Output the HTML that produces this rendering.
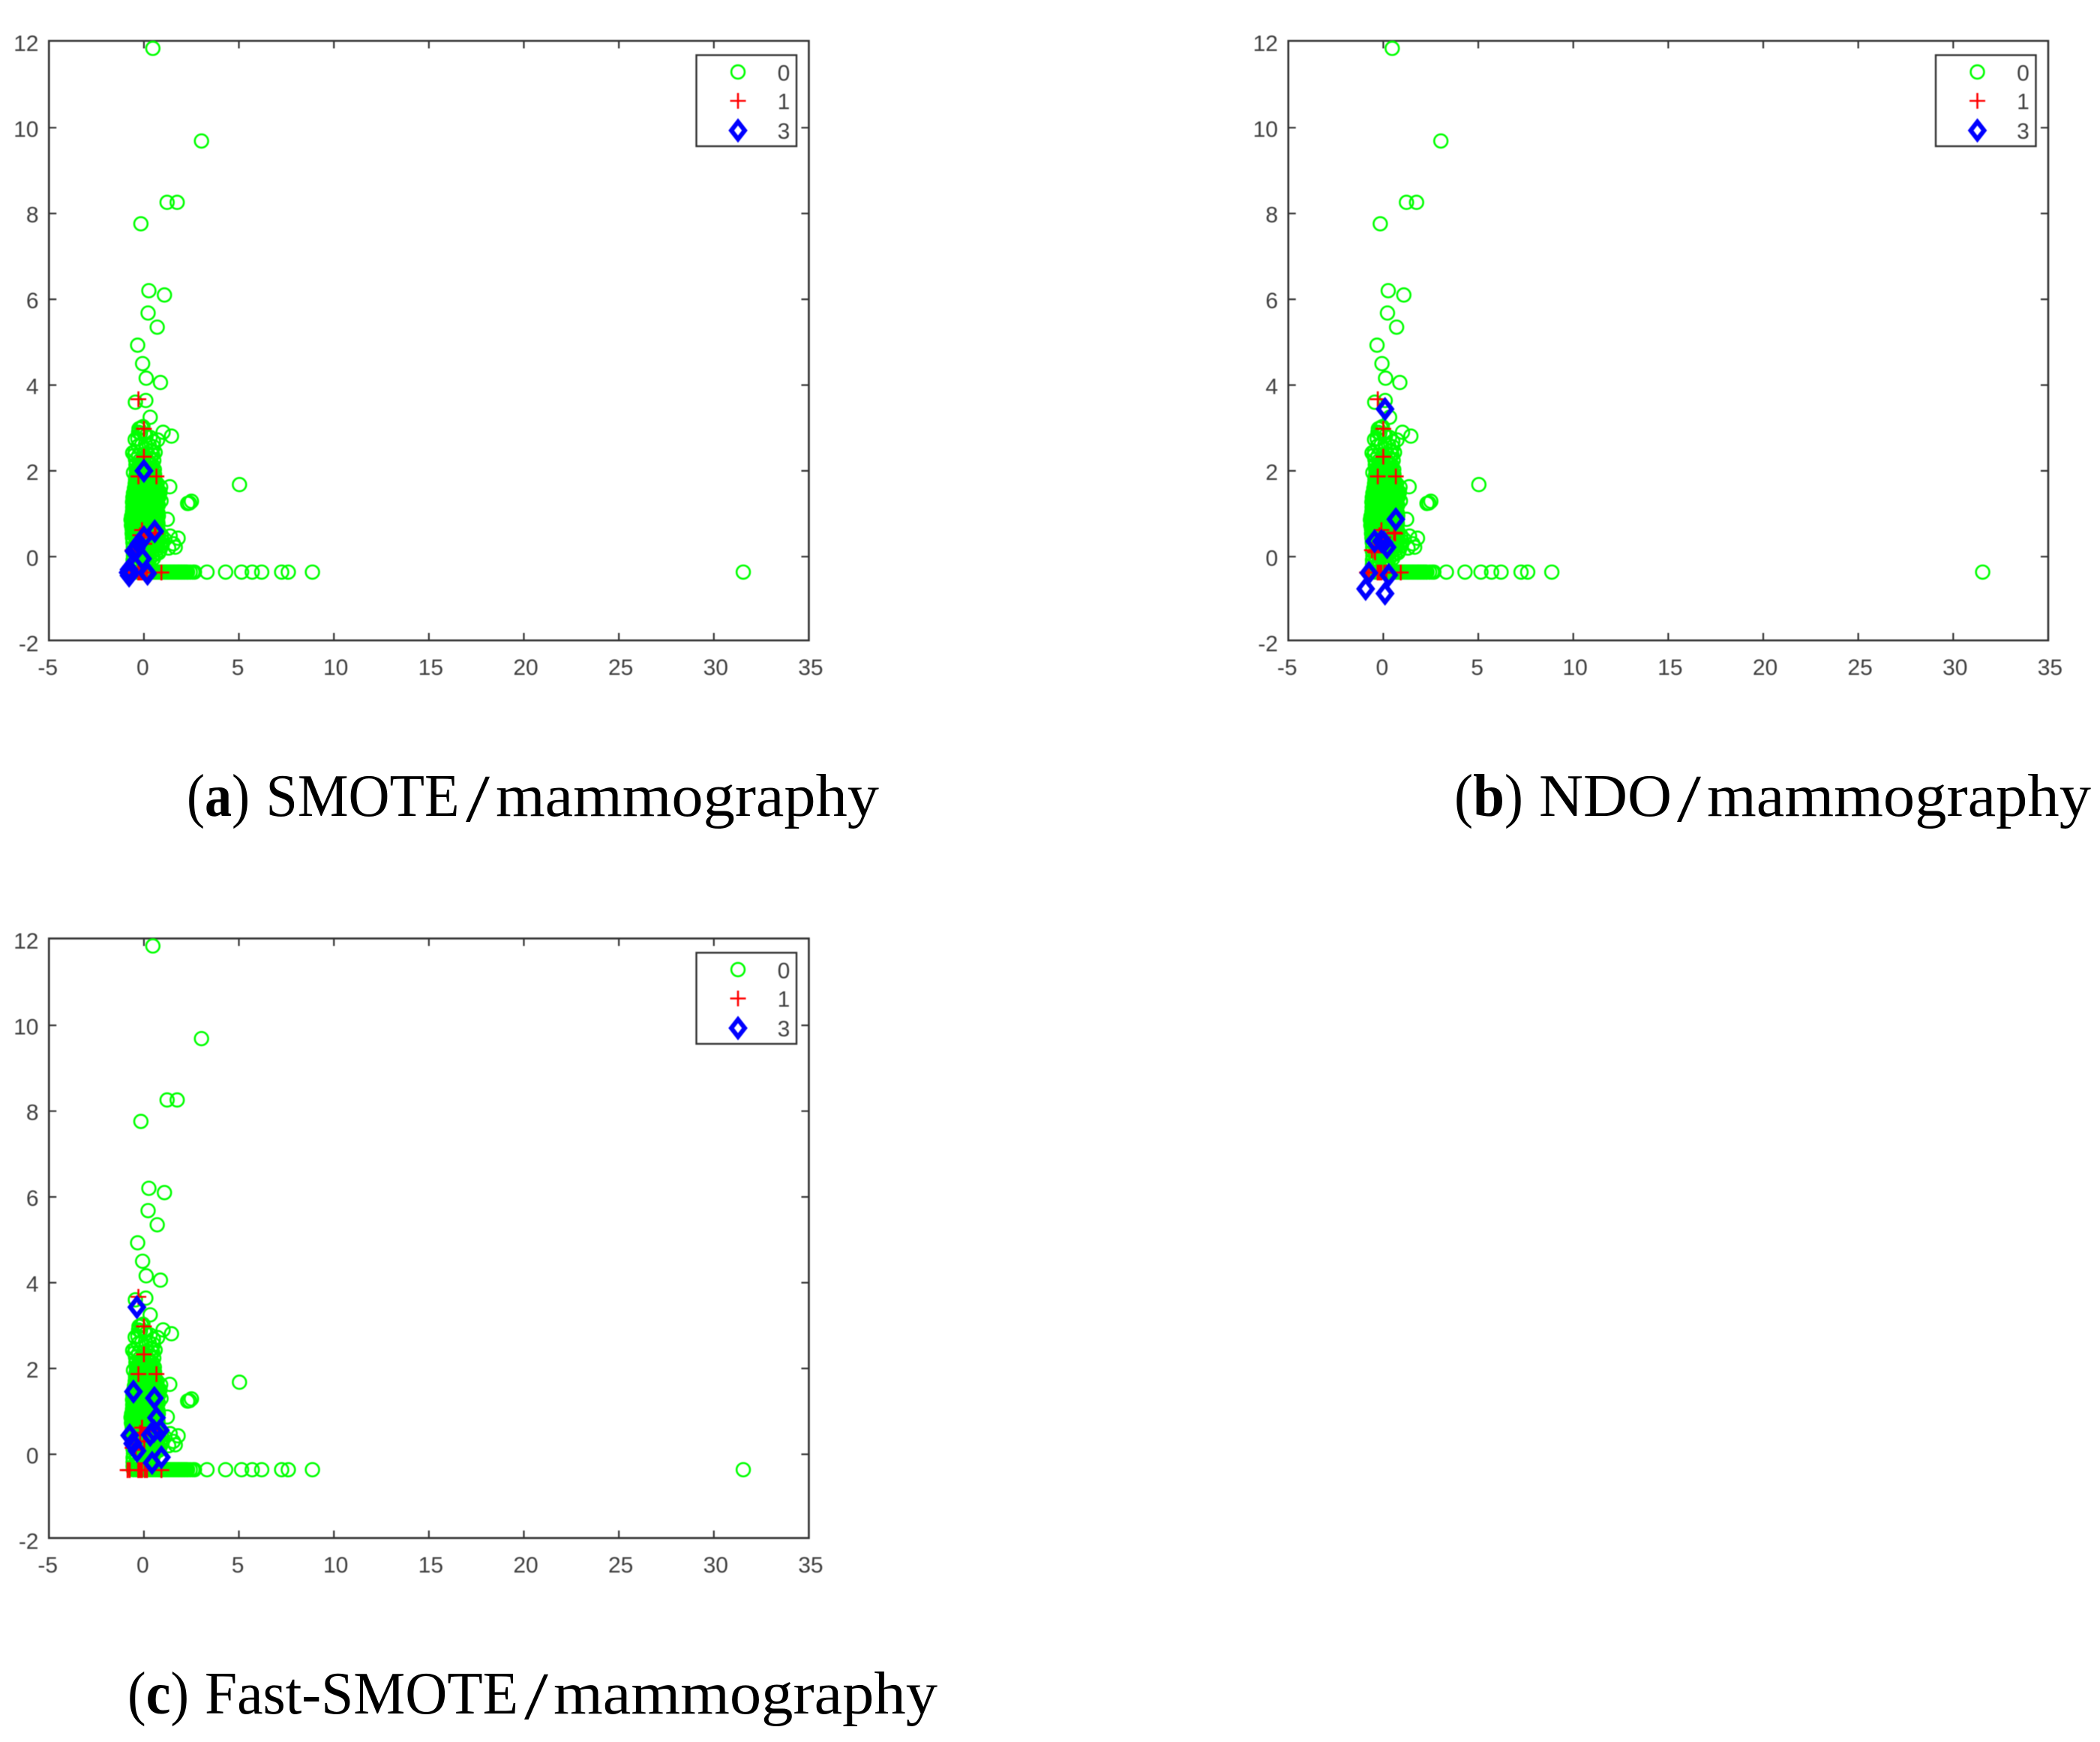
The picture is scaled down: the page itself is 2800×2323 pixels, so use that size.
<!DOCTYPE html>
<html lang="en">
<head>
<meta charset="utf-8">
<title>Oversampling scatter plots on the mammography dataset</title>
<style>
html,body{margin:0;padding:0;background:#fff;}
svg{display:block;}
.tick-label{font-family:"Liberation Sans",sans-serif;font-size:30px;fill:#404040;}
.caption{font-family:"Liberation Serif",serif;font-size:80px;fill:#000;}
.caption-slash{font-family:"Liberation Serif",serif;font-size:90px;fill:#000;}
.chart{filter:blur(0.55px);}
</style>
</head>
<body>
<svg id="figure" xmlns="http://www.w3.org/2000/svg" width="2800" height="2323" viewBox="0 0 2800 2323">
  <rect x="0" y="0" width="2800" height="2323" fill="#fff"/>
  <g id="panel-host"></g>
  <g>
    <text class="caption" x="249" y="1088" textLength="84" lengthAdjust="spacingAndGlyphs">(<tspan font-weight="bold">a</tspan>)</text>
    <text class="caption" x="354.5" y="1088" textLength="258" lengthAdjust="spacingAndGlyphs">SMOTE</text>
    <text class="caption-slash" x="621" y="1095" textLength="32" lengthAdjust="spacingAndGlyphs">/</text>
    <text class="caption" x="661" y="1088" textLength="511" lengthAdjust="spacingAndGlyphs">mammography</text>
  </g>
  <g>
    <text class="caption" x="1939" y="1088" textLength="92" lengthAdjust="spacingAndGlyphs">(<tspan font-weight="bold">b</tspan>)</text>
    <text class="caption" x="2052" y="1088" textLength="177" lengthAdjust="spacingAndGlyphs">NDO</text>
    <text class="caption-slash" x="2236" y="1095" textLength="32" lengthAdjust="spacingAndGlyphs">/</text>
    <text class="caption" x="2276" y="1088" textLength="512" lengthAdjust="spacingAndGlyphs">mammography</text>
  </g>
  <g>
    <text class="caption" x="170" y="2285" textLength="82" lengthAdjust="spacingAndGlyphs">(<tspan font-weight="bold">c</tspan>)</text>
    <text class="caption" x="273" y="2285" textLength="418" lengthAdjust="spacingAndGlyphs">Fast-SMOTE</text>
    <text class="caption-slash" x="699" y="2292" textLength="32" lengthAdjust="spacingAndGlyphs">/</text>
    <text class="caption" x="738" y="2285" textLength="512" lengthAdjust="spacingAndGlyphs">mammography</text>
  </g>
</svg>
<script>
const xTicks = [-5, 0, 5, 10, 15, 20, 25, 30, 35];
const yTicks = [-2, 0, 2, 4, 6, 8, 10, 12];
const legendLabels = ['0', '1', '3'];

const class0Sparse = [
[0.47,11.85],[3.03,9.69],[1.22,8.26],[1.75,8.26],[-0.16,7.76],[0.26,6.2],[1.08,6.1],
[0.22,5.68],[0.7,5.35],[-0.33,4.93],[-0.07,4.5],[0.12,4.16],[0.87,4.06],[0.1,3.64],[-0.45,3.6],
[0.33,3.25],[-0.13,3.01],[-0.26,2.98],[-0.05,3.03],[1.01,2.9],[1.45,2.81],[-0.46,2.73],[-0.32,2.75],[0.33,2.78],[0.12,2.82],
[0.72,2.72],[0.5,2.68],[-0.59,2.42],[-0.46,2.45],[0.59,2.43],[0.42,2.46],[0.1,2.5],[1.36,1.63],[5.03,1.68],
[2.3,1.24],[2.5,1.29],[2.4,1.25],[1.23,0.87],[1.8,0.43],[1.65,0.22],[1.38,0.48],[1.55,0.3],[1.1,0.4],[1.3,0.2],[0.95,0.25],
[3.32,-0.36],[4.3,-0.36],[5.14,-0.36],[5.7,-0.36],[6.2,-0.36],[7.25,-0.36],[7.6,-0.36],[8.87,-0.36],[31.55,-0.36]
];
const class0Band = [
[-0.55,-0.36],[-0.42,-0.36],[-0.3,-0.36],[-0.18,-0.36],[-0.05,-0.36],[0.08,-0.36],[0.2,-0.36],[0.33,-0.36],[0.45,-0.36],[0.56,-0.36],
[0.68,-0.36],[0.8,-0.36],[0.91,-0.36],[1.03,-0.36],[1.14,-0.36],[1.26,-0.36],[1.37,-0.36],[1.49,-0.36],[1.6,-0.36],[1.72,-0.36],
[1.83,-0.36],[1.95,-0.36],[2.06,-0.36],[2.17,-0.36],[2.3,-0.36],[2.44,-0.36],[2.57,-0.36],
[0.62,-0.36],[0.74,-0.36],[0.86,-0.36],[0.97,-0.36],[1.09,-0.36],[1.2,-0.36],[1.32,-0.36],[1.43,-0.36],[1.55,-0.36],[1.66,-0.36],
[1.78,-0.36],[1.89,-0.36],[2.0,-0.36],[2.12,-0.36],[2.24,-0.36],[2.66,-0.36],[0.39,-0.36],[0.5,-0.36],[0.27,-0.36],[0.14,-0.36]
];
const class0Dense = [
[-0.57,-0.28],[-0.57,-0.18],[-0.57,-0.08],[-0.55,0.02],[-0.34,-0.25],[-0.2,-0.22],[-0.02,-0.24],[0.16,-0.2],
[-0.4,-0.12],[-0.22,-0.1],[-0.05,-0.13],[0.12,-0.09],[0.3,-0.06],[0.5,-0.04],
[-0.42,0.02],[-0.26,0.04],[-0.08,0.01],[0.1,0.03],[0.27,0.05],[0.44,0.02],[0.62,0.06],[0.78,0.09],
[-0.57,0.12],[-0.4,0.1],[-0.22,0.13],[-0.05,0.11],[0.13,0.14],[0.3,0.12],[0.47,0.15],[0.65,0.17],[0.84,0.15],
[-0.56,0.22],[-0.38,0.21],[-0.2,0.24],[-0.03,0.2],[0.16,0.23],[0.32,0.25],[0.5,0.22],[0.68,0.27],[0.88,0.3],
[-0.58,0.33],[-0.42,0.31],[-0.24,0.34],[-0.06,0.32],[0.11,0.35],[0.28,0.31],[0.46,0.36],[0.62,0.33],[0.8,0.38],[1.0,0.36],
[-0.6,0.44],[-0.43,0.42],[-0.25,0.45],[-0.08,0.41],[0.1,0.44],[0.26,0.46],[0.44,0.42],[0.6,0.47],[0.78,0.48],[0.92,0.5],
[-0.62,0.54],[-0.44,0.53],[-0.26,0.56],[-0.09,0.52],[0.08,0.55],[0.25,0.57],[0.42,0.53],[0.59,0.56],[0.75,0.59],
[-0.62,0.64],[-0.45,0.62],[-0.28,0.65],[-0.1,0.63],[0.07,0.66],[0.24,0.62],[0.4,0.65],[0.58,0.67],[0.74,0.63],
[-0.66,0.73],[-0.48,0.72],[-0.3,0.75],[-0.12,0.73],[0.06,0.75],[0.22,0.72],[0.39,0.76],[0.56,0.74],[0.74,0.77],
[-0.68,0.86],[-0.5,0.83],[-0.31,0.85],[-0.14,0.82],[0.03,0.86],[0.2,0.84],[0.38,0.82],[0.55,0.86],[0.72,0.84],
[-0.65,0.94],[-0.47,0.93],[-0.3,0.96],[-0.12,0.94],[0.05,0.92],[0.21,0.95],[0.39,0.97],[0.56,0.93],[0.76,0.95],
[-0.6,1.05],[-0.43,1.03],[-0.27,1.06],[-0.1,1.04],[0.08,1.07],[0.24,1.03],[0.41,1.05],[0.58,1.07],[0.74,1.02],
[-0.59,1.15],[-0.41,1.14],[-0.25,1.16],[-0.07,1.13],[0.1,1.16],[0.27,1.14],[0.43,1.17],[0.6,1.15],[0.76,1.2],
[-0.6,1.27],[-0.42,1.25],[-0.23,1.28],[-0.06,1.24],[0.11,1.27],[0.28,1.25],[0.44,1.28],[0.62,1.26],[0.9,1.3],
[-0.58,1.38],[-0.4,1.36],[-0.22,1.39],[-0.05,1.36],[0.12,1.38],[0.29,1.35],[0.45,1.39],[0.63,1.37],[0.8,1.4],
[-0.55,1.48],[-0.37,1.47],[-0.2,1.5],[-0.03,1.46],[0.14,1.49],[0.3,1.47],[0.46,1.5],[0.64,1.48],[0.85,1.5],
[-0.5,1.59],[-0.33,1.57],[-0.17,1.6],[0.0,1.57],[0.16,1.6],[0.32,1.58],[0.48,1.61],[0.68,1.6],[0.88,1.62],
[-0.46,1.7],[-0.3,1.68],[-0.13,1.71],[0.03,1.69],[0.2,1.71],[0.36,1.68],[0.52,1.72],[0.7,1.7],
[-0.44,1.8],[-0.28,1.78],[-0.1,1.81],[0.05,1.79],[0.22,1.82],[0.38,1.79],[0.53,1.81],
[-0.55,1.96],[-0.41,1.9],[-0.25,1.89],[-0.08,1.92],[0.08,1.9],[0.24,1.93],[0.4,1.9],[0.56,1.92],
[-0.4,2.02],[-0.24,2.0],[-0.07,2.03],[0.1,2.01],[0.26,2.04],[0.42,2.0],[0.55,2.03],
[-0.42,2.14],[-0.25,2.12],[-0.06,2.15],[0.12,2.12],[0.3,2.15],[0.46,2.13],
[-0.44,2.26],[-0.22,2.24],[-0.03,2.27],[0.18,2.25],[0.36,2.28],[0.52,2.24],
[-0.5,2.36],[-0.28,2.35],[-0.02,2.38],[0.24,2.36],[0.46,2.37],
[-0.3,2.58],[-0.12,2.6],[0.08,2.62],[0.28,2.6],[0.5,2.56],[-0.18,2.88],[0.02,2.86],[-0.28,2.9]
];
const class0Core = [
[-0.5,0.5],[-0.34,0.49],[-0.17,0.51],[0.0,0.48],[0.17,0.5],[0.33,0.52],[0.5,0.49],[0.67,0.52],
[-0.53,0.6],[-0.36,0.58],[-0.19,0.6],[-0.01,0.58],[0.16,0.61],[0.32,0.59],[0.49,0.61],[0.66,0.6],
[-0.57,0.69],[-0.39,0.68],[-0.21,0.7],[-0.03,0.68],[0.14,0.7],[0.31,0.68],[0.47,0.71],[0.65,0.69],
[-0.59,0.79],[-0.41,0.78],[-0.22,0.8],[-0.05,0.78],[0.12,0.81],[0.3,0.79],[0.47,0.8],[0.64,0.79],
[-0.58,0.9],[-0.4,0.89],[-0.22,0.91],[-0.06,0.88],[0.12,0.9],[0.3,0.89],[0.47,0.91],[0.65,0.89],
[-0.55,1.0],[-0.36,0.99],[-0.2,1.01],[-0.02,0.98],[0.15,1.01],[0.32,0.99],[0.49,1.0],[0.66,0.99],
[-0.52,1.1],[-0.34,1.09],[-0.18,1.11],[0.0,1.08],[0.17,1.11],[0.34,1.09],[0.5,1.11],[0.67,1.1],
[-0.5,1.21],[-0.33,1.2],[-0.15,1.22],[0.02,1.19],[0.2,1.22],[0.36,1.2],[0.52,1.22],[0.69,1.21],
[-0.5,1.32],[-0.32,1.31],[-0.14,1.33],[0.03,1.3],[0.2,1.33],[0.37,1.31],[0.54,1.33],[0.71,1.31],
[-0.47,1.43],[-0.3,1.42],[-0.12,1.44],[0.05,1.41],[0.22,1.43],[0.38,1.42],[0.55,1.44],[0.73,1.43],
[-0.43,1.54],[-0.27,1.53],[-0.1,1.55],[0.07,1.52],[0.24,1.54],[0.4,1.53],[0.57,1.55],[0.76,1.54],
[-0.39,1.64],[-0.22,1.63],[-0.05,1.65],[0.11,1.63],[0.28,1.65],[0.44,1.63],[0.6,1.66],
[-0.37,1.75],[-0.2,1.74],[-0.03,1.76],[0.13,1.74],[0.29,1.76],[0.45,1.74],[0.6,1.76],
[-0.36,1.85],[-0.18,1.84],[-0.02,1.86],[0.14,1.84],[0.3,1.86],[0.46,1.84],
[-0.33,1.96],[-0.16,1.95],[0.0,1.97],[0.16,1.95],[0.32,1.97],[0.48,1.96],
[-0.33,2.07],[-0.15,2.08],[0.02,2.07],[0.18,2.08],[0.35,2.07]
];
const class1Points = [
[-0.29,3.67],[0,2.98],[0,2.33],[-0.29,1.87],[0.66,1.87],[-0.1,0.62],[0,0.45],[-0.2,0.5],[0.57,0.56],[0.62,0.54],
[0.02,0.3],[-0.43,0.1],[-0.46,0.14],[-0.6,0.15],[-0.86,-0.37],[-0.75,-0.37],[-0.3,-0.37],[-0.25,-0.37],[-0.2,-0.37],[-0.15,-0.37],[-0.1,-0.37],
[0.05,-0.37],[0.16,-0.37],[0.92,-0.37]
];
const class3SmotePoints = [
[0,2.0],[0.57,0.59],[0,0.45],[-0.26,0.3],[-0.53,0.13],[-0.4,0.2],[-0.07,-0.05],[-0.72,-0.37],[-0.83,-0.37],[-0.78,-0.3],[-0.78,-0.44],[0.16,-0.37],[0.19,-0.4]
];
const class3NdoPoints = [
[0.09,3.44],[0.66,0.87],[-0.46,0.36],[-0.1,0.36],[0.03,0.33],[0.2,0.22],[-0.76,-0.38],[0.29,-0.43],[-0.93,-0.75],[0.09,-0.86]
];
const class3FastPoints = [
[-0.37,3.43],[-0.55,1.46],[0.55,1.31],[0.66,0.85],[-0.75,0.44],[0.33,0.45],[0.86,0.56],[0.53,0.54],[-0.36,0.08],[-0.59,0.25],[0.92,-0.07],[0.43,-0.2]
];

const panelOffsets = [
  {key: 'a', dx: 0, dy: 0, blue: class3SmotePoints},
  {key: 'b', dx: 1652.5, dy: 0, blue: class3NdoPoints},
  {key: 'c', dx: 0, dy: 1197, blue: class3FastPoints}
];

const NS = 'http://www.w3.org/2000/svg';
const AXIS = '#333333';

function xScale(v) { return 191.9 + 25.33 * v; }
function yScale(v) { return 742.3 - 57.2 * v; }

function make(tag, attrs, parent) {
  const el = document.createElementNS(NS, tag);
  for (const k in attrs) el.setAttribute(k, attrs[k]);
  parent.appendChild(el);
  return el;
}

function drawCircle(parent, cx, cy) {
  const el = make('circle', {cx: cx, cy: cy, r: 8.9, fill: 'none', stroke: '#00ff00', 'stroke-width': 2.6}, parent);
  
  
  return el;
}
function drawPlus(parent, cx, cy) {
  const el = make('path', {d: 'M' + (cx - 10.5) + ' ' + cy + 'H' + (cx + 10.5) + 'M' + cx + ' ' + (cy - 10.5) + 'V' + (cy + 10.5), fill: 'none', stroke: '#ff0000', 'stroke-width': 2.6}, parent);
  
  
  return el;
}
function drawDiamond(parent, cx, cy) {
  const el = make('path', {d: 'M' + cx + ' ' + (cy - 11.5) + 'L' + (cx + 9) + ' ' + cy + 'L' + cx + ' ' + (cy + 11.5) + 'L' + (cx - 9) + ' ' + cy + 'Z', fill: 'none', stroke: '#0000ff', 'stroke-width': 6}, parent);
  
  
  return el;
}

const host = document.getElementById('panel-host');

panelOffsets.forEach(function (panel) {
  const g = make('g', {transform: 'translate(' + panel.dx + ' ' + panel.dy + ')', class: 'chart'}, host);
  
  

  const left = xScale(-5), right = xScale(35), top = 54.5, bottom = 854;

  const box = make('rect', {x: left, y: top, width: right - left, height: bottom - top, fill: '#fff', stroke: AXIS, 'stroke-width': 2.6}, g);
  
  

  xTicks.forEach(function (t) {
    const x = xScale(t);
    if (t !== -5 && t !== 35) {
      const tick = make('path', {d: 'M' + x + ' ' + bottom + 'v-10M' + x + ' ' + top + 'v10', stroke: AXIS, 'stroke-width': 2.2, fill: 'none'}, g);
      
      
    }
    const label = make('text', {x: x + (t >= 10 ? 2.5 : -1.5), y: 900, 'text-anchor': 'middle', class: 'tick-label'}, g);
    label.textContent = String(t);
    
    
  });

  yTicks.forEach(function (t) {
    const y = yScale(t);
    if (t !== -2 && t !== 12) {
      const tick = make('path', {d: 'M' + left + ' ' + y + 'h10M' + right + ' ' + y + 'h-10', stroke: AXIS, 'stroke-width': 2.2, fill: 'none'}, g);
      
      
    }
    const label = make('text', {x: 51.5, y: y + 12, 'text-anchor': 'end', class: 'tick-label'}, g);
    label.textContent = String(t);
    
    
  });

  class0Sparse.concat(class0Band, class0Dense, class0Core).forEach(function (p) {
    drawCircle(g, xScale(p[0]), yScale(p[1]));
  });
  class1Points.forEach(function (p) {
    drawPlus(g, xScale(p[0]), yScale(p[1]));
  });
  panel.blue.forEach(function (p) {
    drawDiamond(g, xScale(p[0]), yScale(p[1]));
  });

  const legend = make('g', {}, g);
  
  
  const legendBox = make('rect', {x: 928.5, y: 73.5, width: 133.5, height: 121.5, fill: '#fff', stroke: AXIS, 'stroke-width': 2.4}, legend);
  
  

  drawCircle(legend, 984, 96);
  drawPlus(legend, 984, 134.5);
  drawDiamond(legend, 984, 174);

  const legendRows = [107.5, 145.5, 185];
  legendLabels.forEach(function (name, i) {
    const entry = make('text', {x: 1045, y: legendRows[i], 'text-anchor': 'middle', class: 'tick-label'}, legend);
    entry.textContent = name;
    
    
  });
});
</script>
</body>
</html>
